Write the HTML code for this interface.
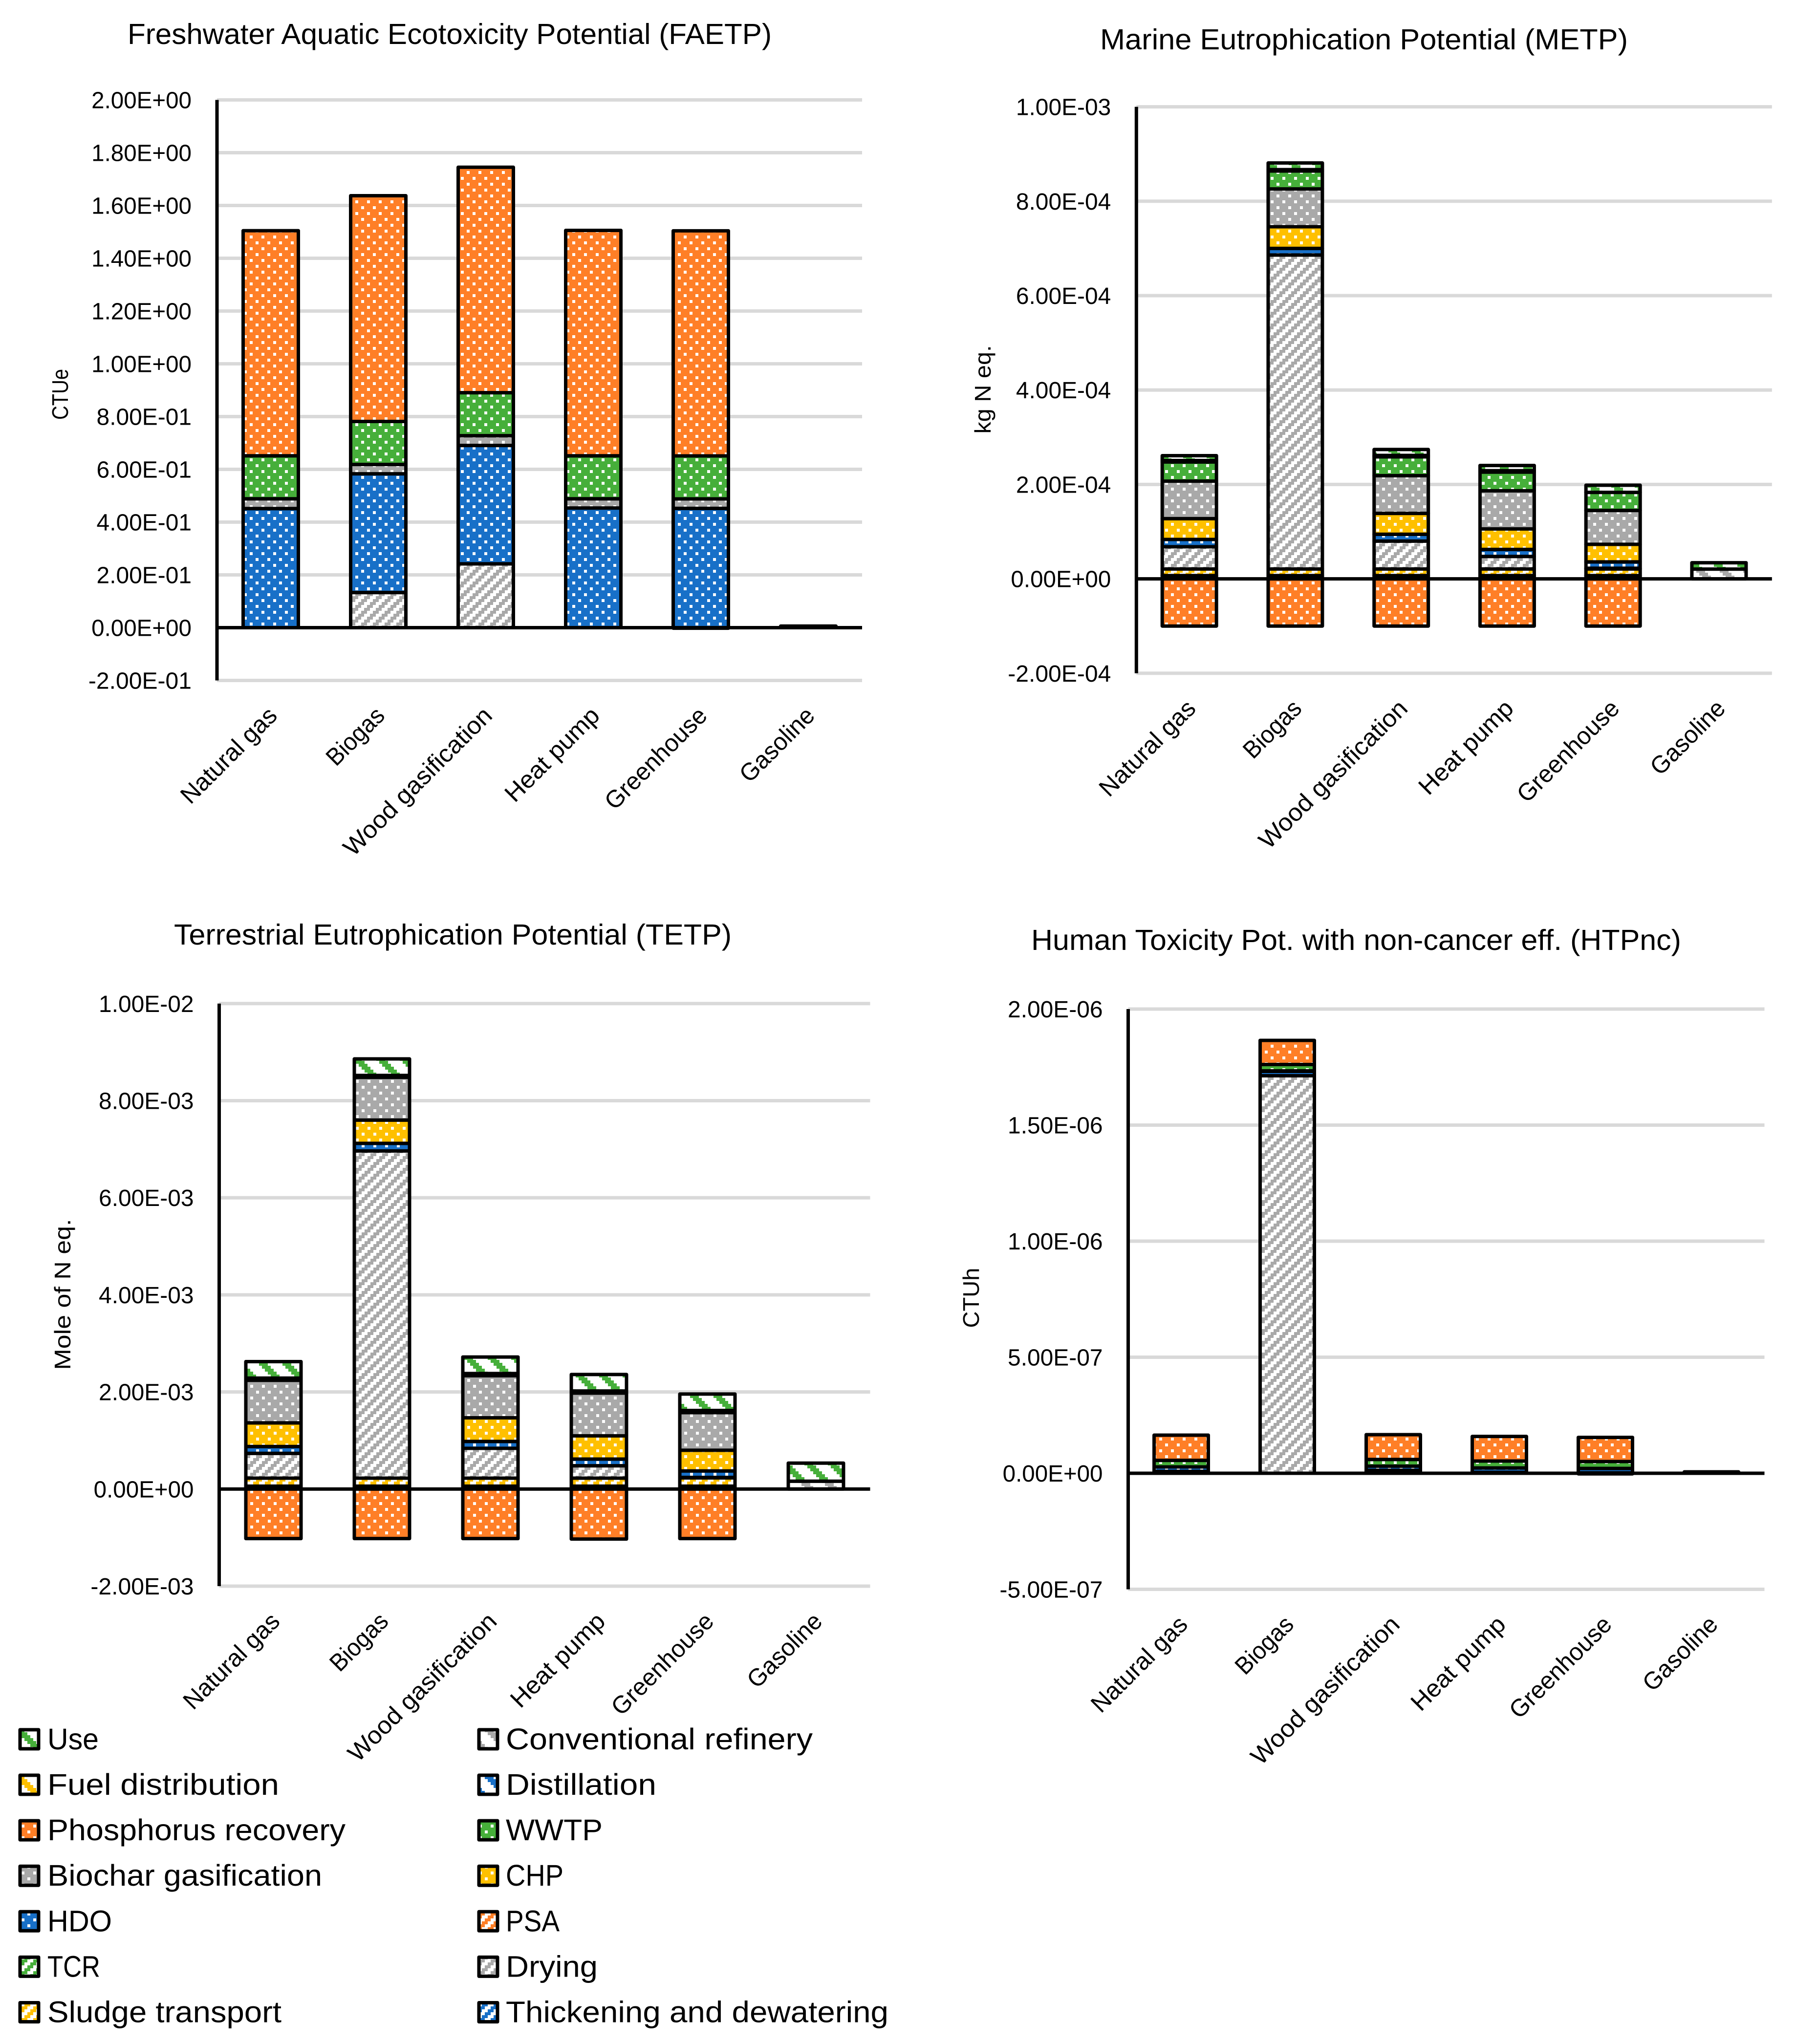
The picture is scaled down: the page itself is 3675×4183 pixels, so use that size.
<!DOCTYPE html>
<html lang="en">
<head>
<meta charset="utf-8">
<title>Life cycle impact charts</title>
<style>
html,body{margin:0;padding:0;background:#fff;}
svg{display:block;}
text{font-family:"Liberation Sans",sans-serif;fill:#000;}
</style>
</head>
<body>
<svg id="figure" xmlns="http://www.w3.org/2000/svg" width="3675" height="4183" viewBox="0 0 3675 4183">
<rect x="0" y="0" width="3675" height="4183" fill="#ffffff"/>
<defs id="defs"></defs>
</svg>
<script>
// Categories shared by all charts
const categories = ['Natural gas', 'Biogas', 'Wood gasification', 'Heat pump', 'Greenhouse', 'Gasoline'];
const categoryLengths = [255, 145, 406, 250, 272, 193];

// FAETP series (CTUe)
const faetpDrying = [0, 0.133, 0.242, 0, -0.002, 0];
const faetpHdo = [0.4515, 0.450, 0.4485, 0.4535, 0.452, 0];
const faetpBiochar = [0.037, 0.0355, 0.037, 0.035, 0.036, 0];
const faetpWwtp = [0.163, 0.163, 0.163, 0.163, 0.163, 0];
const faetpPhosphorus = [0.853, 0.8555, 0.8543, 0.854, 0.853, 0];
const faetpRefinery = [0, 0, 0, 0, 0, 0.006];
const faetpTickValues = [2, 1.8, 1.6, 1.4, 1.2, 1, 0.8, 0.6, 0.4, 0.2, 0, -0.2];
const faetpTickLabels = ['2.00E+00', '1.80E+00', '1.60E+00', '1.40E+00', '1.20E+00', '1.00E+00', '8.00E-01', '6.00E-01', '4.00E-01', '2.00E-01', '0.00E+00', '-2.00E-01'];

// METP series (kg N eq.)
const metpThickening = [0.7e-5, 0.7e-5, 0.7e-5, 0.7e-5, 0.7e-5, 0];
const metpSludge = [1.4e-5, 1.4e-5, 1.4e-5, 1.4e-5, 1.4e-5, 0];
const metpDrying = [4.7e-5, 66.5e-5, 5.9e-5, 2.65e-5, 0.15e-5, 0];
const metpHdo = [1.55e-5, 1.4e-5, 1.45e-5, 1.48e-5, 1.34e-5, 0];
const metpChp = [4.4e-5, 4.6e-5, 4.42e-5, 4.35e-5, 3.73e-5, 0];
const metpBiochar = [7.95e-5, 8.0e-5, 7.99e-5, 8.08e-5, 7.17e-5, 0];
const metpWwtp = [4.06e-5, 3.8e-5, 3.99e-5, 3.96e-5, 3.83e-5, 0];
const metpPhosphorus = [-1.0e-4, -1.0e-4, -1.0e-4, -1.0e-4, -1.0e-4, 0];
const metpFuel = [0.3e-5, 0.3e-5, 0.3e-5, 0.3e-5, 0, 0];
const metpRefinery = [0, 0, 0, 0, 0, 2.07e-5];
const metpUse = [1.04e-5, 1.4e-5, 1.25e-5, 1.1e-5, 1.52e-5, 1.35e-5];
const metpTickValues = [1e-3, 8e-4, 6e-4, 4e-4, 2e-4, 0, -2e-4];
const metpTickLabels = ['1.00E-03', '8.00E-04', '6.00E-04', '4.00E-04', '2.00E-04', '0.00E+00', '-2.00E-04'];

// TETP series (Mole of N eq.)
const tetpThickening = [6e-5, 6e-5, 6e-5, 6e-5, 6e-5, 0];
const tetpSludge = [1.65e-4, 1.65e-4, 1.65e-4, 1.65e-4, 1.7e-4, 0];
const tetpDrying = [5.1e-4, 67.4e-4, 6.14e-4, 2.55e-4, 0.1e-4, 0];
const tetpHdo = [1.41e-4, 1.55e-4, 1.41e-4, 1.37e-4, 1.33e-4, 0];
const tetpChp = [4.87e-4, 4.8e-4, 4.87e-4, 4.8e-4, 4.26e-4, 0];
const tetpBiochar = [8.77e-4, 8.8e-4, 8.69e-4, 8.8e-4, 7.75e-4, 0];
const tetpWwtp = [0.45e-4, 0.4e-4, 0.44e-4, 0.43e-4, 0.44e-4, 0];
const tetpPhosphorus = [-1.02e-3, -1.02e-3, -1.02e-3, -1.03e-3, -1.02e-3, 0];
const tetpRefinery = [0, 0, 0, 0, 0, 1.61e-4];
const tetpUse = [3.4e-4, 3.4e-4, 3.4e-4, 3.4e-4, 3.39e-4, 3.73e-4];
const tetpTickValues = [1e-2, 8e-3, 6e-3, 4e-3, 2e-3, 0, -2e-3];
const tetpTickLabels = ['1.00E-02', '8.00E-03', '6.00E-03', '4.00E-03', '2.00E-03', '0.00E+00', '-2.00E-03'];

// HTPnc series (CTUh)
const htpPsa = [0, 0, 0, 0, -0.25e-8, 0];
const htpDrying = [0.81e-8, 171.26e-8, 1.3e-8, 0.39e-8, 0.18e-8, 0];
const htpHdo = [1.93e-8, 1.9e-8, 1.75e-8, 1.89e-8, 1.89e-8, 0];
const htpBiochar = [0, 0.21e-8, 0, 0, 0, 0];
const htpWwtp = [2.8e-8, 2.73e-8, 2.91e-8, 2.98e-8, 2.98e-8, 0];
const htpPhosphorus = [10.88e-8, 10.4e-8, 10.67e-8, 10.6e-8, 10.39e-8, 0];
const htpRefinery = [0, 0, 0, 0, 0, 0.6e-8];
const htpTickValues = [2e-6, 1.5e-6, 1e-6, 5e-7, 0, -5e-7];
const htpTickLabels = ['2.00E-06', '1.50E-06', '1.00E-06', '5.00E-07', '0.00E+00', '-5.00E-07'];

// Legend entries
const legendLeft = ['Use', 'Fuel distribution', 'Phosphorus recovery', 'Biochar gasification', 'HDO', 'TCR', 'Sludge transport'];
const legendRight = ['Conventional refinery', 'Distillation', 'WWTP', 'CHP', 'PSA', 'Drying', 'Thickening and dewatering'];
const legendLeftLengths = [105, 474, 610, 562, 132, 108, 479];
const legendRightLengths = [628, 308, 198, 118, 110, 188, 783];

const NS = 'http://www.w3.org/2000/svg';
const root = document.getElementById('figure');
const defs = document.getElementById('defs');
const BLUE = '#1870C8', ORANGE = '#FF7F27', GREEN = '#46AF3A', GRAY = '#A9A9A9', YELLOW = '#FFC000';

const seriesStyle = {
  'Thickening and dewatering': ['up', BLUE],
  'Sludge transport': ['up', YELLOW],
  'Drying': ['up', GRAY],
  'TCR': ['up', GREEN],
  'PSA': ['up', ORANGE],
  'HDO': ['dot', BLUE],
  'CHP': ['dot', YELLOW],
  'Biochar gasification': ['dot', GRAY],
  'WWTP': ['dot', GREEN],
  'Phosphorus recovery': ['dot', ORANGE],
  'Distillation': ['down', BLUE],
  'Fuel distribution': ['down', YELLOW],
  'Conventional refinery': ['down', GRAY],
  'Use': ['down', GREEN]
};

function make(tag, attrs, parent) {
  const el = document.createElementNS(NS, tag);
  for (const k in attrs) el.setAttribute(k, attrs[k]);
  (parent || root).appendChild(el);
  return el;
}

function slug(s) {
  return s.toLowerCase().replace(/[^a-z0-9]+/g, '-');
}

// Width of a tick label in the reference's narrower typeface
function tickLabelWidth(label) {
  let em = 0;
  for (const ch of label) {
    if (ch === '.') em += 0.252;
    else if (ch === 'E') em += 0.488;
    else if (ch === '+') em += 0.498;
    else if (ch === '-') em += 0.306;
    else em += 0.507;
  }
  return em * 54.3;
}

function makePattern(id, kind, color, phase) {
  const size = kind === 'dot' ? 24 : (kind === 'up' ? 24 : 48);
  const ox = kind === 'down' ? phase.downX : phase.x;
  const oy = kind === 'down' ? phase.downY : phase.y;
  const p = make('pattern', {
    id: id, patternUnits: 'userSpaceOnUse', width: size, height: size,
    patternTransform: 'translate(' + ox + ' ' + oy + ')'
  }, defs);
  make('rect', { x: 0, y: 0, width: size, height: size, fill: kind === 'dot' ? color : '#ffffff' }, p);
  if (kind === 'dot') {
    make('rect', { x: 0, y: 0, width: 6, height: 6, fill: '#ffffff' }, p);
    make('rect', { x: 12, y: 12, width: 6, height: 6, fill: '#ffffff' }, p);
  } else if (kind === 'up') {
    for (let r = 0; r < 4; r++) {
      const c = (6 - r) % 4;
      make('rect', { x: c * 6, y: r * 6, width: 6, height: 6, fill: color }, p);
      make('rect', { x: ((c + 1) % 4) * 6, y: r * 6, width: 6, height: 6, fill: color }, p);
    }
  } else {
    for (let r = 0; r < 8; r++) {
      for (let k = 0; k < 3; k++) {
        make('rect', { x: ((r + k) % 8) * 6, y: r * 6, width: 6, height: 6, fill: color }, p);
      }
    }
  }
}

function makePatternSet(prefix, phase) {
  for (const name in seriesStyle) {
    makePattern(prefix + '-' + slug(name), seriesStyle[name][0], seriesStyle[name][1], phase);
  }
}

function drawChart(cfg) {
  makePatternSet(cfg.key, cfg.phase);
  const g = make('g', {});
  
  

  const yScale = v => cfg.zeroY - v * cfg.pxPerUnit;
  const band = cfg.plotWidth / categories.length;
  const xScale = i => cfg.axisX + band * (i + 0.5);
  const bottom = yScale(cfg.tickValues[cfg.tickValues.length - 1]);
  const top = yScale(cfg.tickValues[0]);

  const title = make('text', {
    x: cfg.titleX, y: cfg.titleY, 'font-size': 59,
    textLength: cfg.titleLen, lengthAdjust: 'spacingAndGlyphs'
  }, g);
  title.textContent = cfg.title;
  
  

  cfg.tickValues.forEach((v, i) => {
    const y = yScale(v);
    if (v !== 0) {
      const line = make('rect', { x: cfg.axisX, y: y - 3.5, width: cfg.plotWidth, height: 7, fill: '#D9D9D9' }, g);
      
      
    }
    const lab = make('text', {
      x: cfg.axisX - 52, y: y + 17, 'font-size': 48, 'text-anchor': 'end',
      textLength: tickLabelWidth(cfg.tickLabels[i]), lengthAdjust: 'spacingAndGlyphs'
    }, g);
    lab.textContent = cfg.tickLabels[i];
    
    
  });

  categories.forEach((cat, i) => {
    let pos = 0, neg = 0;
    const barW = cfg.barWidth;
    cfg.series.forEach(s => {
      const v = s.values[i];
      if (!v) return;
      let y0, y1;
      if (v > 0) { y0 = yScale(pos + v); y1 = yScale(pos); pos += v; }
      else { y0 = yScale(neg); y1 = yScale(neg + v); neg += v; }
      const bar = make('rect', {
        x: xScale(i) - barW / 2, y: y0, width: barW, height: y1 - y0,
        fill: 'url(#' + cfg.key + '-' + slug(s.name) + ')',
        stroke: '#000000', 'stroke-width': 7, 'stroke-linejoin': 'round'
      }, g);
      
      
    });

    const ax = xScale(i) + 16;
    const ay = bottom + 75;
    const label = make('text', {
      x: ax, y: ay, 'font-size': 50, 'text-anchor': 'end',
      transform: 'rotate(-45 ' + ax + ' ' + ay + ')',
      textLength: categoryLengths[i], lengthAdjust: 'spacingAndGlyphs'
    }, g);
    label.textContent = cat;
    
    
  });

  const yAxis = make('rect', { x: cfg.axisX - 3.5, y: top, width: 7, height: bottom - top, fill: '#000000' }, g);
  
  

  const zero = make('rect', { x: cfg.axisX, y: yScale(0) - 3.5, width: cfg.plotWidth, height: 7, fill: '#000000' }, g);
  
  

  const yt = make('text', {
    x: cfg.yTitleX, y: cfg.yTitleY, 'font-size': 46, 'text-anchor': 'middle',
    transform: 'rotate(-90 ' + cfg.yTitleX + ' ' + cfg.yTitleY + ')',
    textLength: cfg.yTitleLen, lengthAdjust: 'spacingAndGlyphs'
  }, g);
  yt.textContent = cfg.yTitle;
  
  
}

drawChart({
  key: 'faetp', title: 'Freshwater Aquatic Ecotoxicity Potential (FAETP)',
  titleX: 261, titleY: 90, titleLen: 1318,
  yTitle: 'CTUe', yTitleX: 139, yTitleY: 807, yTitleLen: 104,
  axisX: 444, plotWidth: 1320, zeroY: 1284.5, pxPerUnit: 540, barWidth: 113,
  phase: { x: 7, y: 2, downX: 8, downY: 11 },
  tickValues: faetpTickValues, tickLabels: faetpTickLabels,
  series: [
    { name: 'Drying', values: faetpDrying },
    { name: 'HDO', values: faetpHdo },
    { name: 'Biochar gasification', values: faetpBiochar },
    { name: 'WWTP', values: faetpWwtp },
    { name: 'Phosphorus recovery', values: faetpPhosphorus },
    { name: 'Conventional refinery', values: faetpRefinery }
  ]
});

drawChart({
  key: 'metp', title: 'Marine Eutrophication Potential (METP)',
  titleX: 2251, titleY: 101, titleLen: 1080,
  yTitle: 'kg N eq.', yTitleX: 2027, yTitleY: 797, yTitleLen: 181,
  axisX: 2325.3, plotWidth: 1300.5, zeroY: 1184.6, pxPerUnit: 966000, barWidth: 111,
  phase: { x: 20, y: 14, downX: 45, downY: 44 },
  tickValues: metpTickValues, tickLabels: metpTickLabels,
  series: [
    { name: 'Thickening and dewatering', values: metpThickening },
    { name: 'Sludge transport', values: metpSludge },
    { name: 'Drying', values: metpDrying },
    { name: 'HDO', values: metpHdo },
    { name: 'CHP', values: metpChp },
    { name: 'Biochar gasification', values: metpBiochar },
    { name: 'WWTP', values: metpWwtp },
    { name: 'Phosphorus recovery', values: metpPhosphorus },
    { name: 'Fuel distribution', values: metpFuel },
    { name: 'Conventional refinery', values: metpRefinery },
    { name: 'Use', values: metpUse }
  ]
});

drawChart({
  key: 'tetp', title: 'Terrestrial Eutrophication Potential (TETP)',
  titleX: 356, titleY: 1933, titleLen: 1141,
  yTitle: 'Mole of N eq.', yTitleX: 144, yTitleY: 2649, yTitleLen: 309,
  axisX: 448.5, plotWidth: 1332, zeroY: 3047.3, pxPerUnit: 99350, barWidth: 113,
  phase: { x: 8, y: 2, downX: 8, downY: 11 },
  tickValues: tetpTickValues, tickLabels: tetpTickLabels,
  series: [
    { name: 'Thickening and dewatering', values: tetpThickening },
    { name: 'Sludge transport', values: tetpSludge },
    { name: 'Drying', values: tetpDrying },
    { name: 'HDO', values: tetpHdo },
    { name: 'CHP', values: tetpChp },
    { name: 'Biochar gasification', values: tetpBiochar },
    { name: 'WWTP', values: tetpWwtp },
    { name: 'Phosphorus recovery', values: tetpPhosphorus },
    { name: 'Conventional refinery', values: tetpRefinery },
    { name: 'Use', values: tetpUse }
  ]
});

drawChart({
  key: 'htpnc', title: 'Human Toxicity Pot. with non-cancer eff. (HTPnc)',
  titleX: 2110, titleY: 1944, titleLen: 1330,
  yTitle: 'CTUh', yTitleX: 2003, yTitleY: 2656, yTitleLen: 123,
  axisX: 2308.5, plotWidth: 1302, zeroY: 3015, pxPerUnit: 4.75e8, barWidth: 111,
  phase: { x: 8, y: 2, downX: 8, downY: 11 },
  tickValues: htpTickValues, tickLabels: htpTickLabels,
  series: [
    { name: 'PSA', values: htpPsa },
    { name: 'Drying', values: htpDrying },
    { name: 'HDO', values: htpHdo },
    { name: 'Biochar gasification', values: htpBiochar },
    { name: 'WWTP', values: htpWwtp },
    { name: 'Phosphorus recovery', values: htpPhosphorus },
    { name: 'Conventional refinery', values: htpRefinery }
  ]
});

// Legend
makePatternSet('legend', { x: 8, y: 2, downX: 8, downY: 11 });
const legendGroup = make('g', {});



function drawLegendColumn(names, lengths, swatchX, textX) {
  names.forEach((name, i) => {
    const cy = 3559.4 + i * 93.1;
    const entry = make('g', {}, legendGroup);
    
    
    const sw = make('rect', {
      x: swatchX, y: cy - 19.5, width: 38, height: 39,
      fill: 'url(#legend-' + slug(name) + ')',
      stroke: '#000000', 'stroke-width': 7, 'stroke-linejoin': 'round'
    }, entry);
    
    
    const t = make('text', {
      x: textX, y: cy + 20.5, 'font-size': 61,
      textLength: lengths[i], lengthAdjust: 'spacingAndGlyphs'
    }, entry);
    t.textContent = name;
    
    
  });
}
drawLegendColumn(legendLeft, legendLeftLengths, 41, 97);
drawLegendColumn(legendRight, legendRightLengths, 980, 1035);
</script>
</body>
</html>
